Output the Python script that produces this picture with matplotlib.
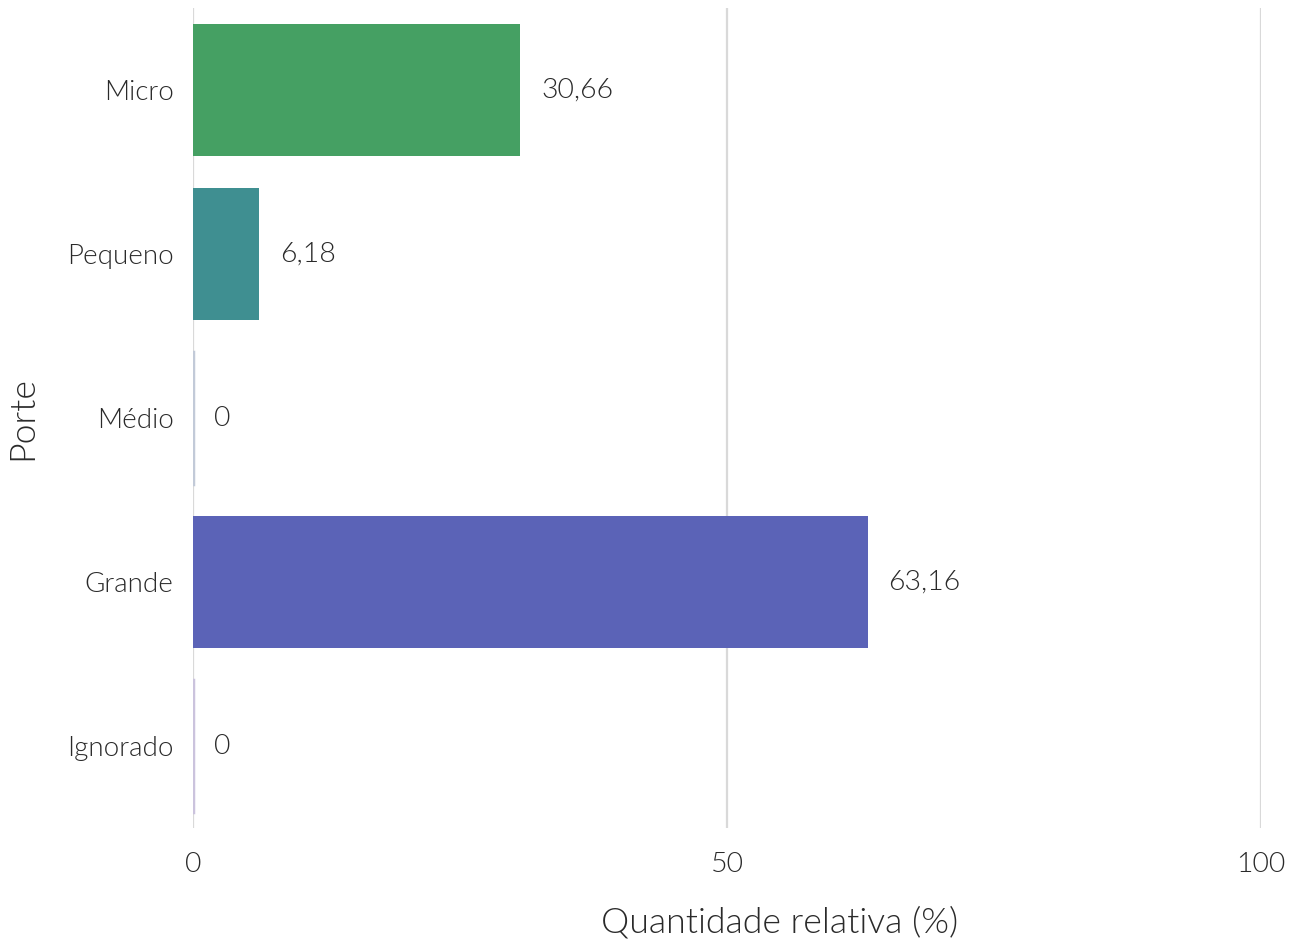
import numpy as np
import matplotlib.pyplot as plt

# dados
categorias = ['Micro', 'Pequeno', 'Médio', 'Grande', 'Ignorado']
valores = [30.66, 6.18, 0, 63.16, 0]
rotulos = ['30,66', '6,18', '0', '63,16', '0']
cores = ['#45a063', '#3f8f91', '#c2cad8', '#5b63b7', '#cbc3dd']

plt.rcParams['font.family'] = ['Lato', 'DejaVu Sans']
plt.rcParams['font.weight'] = 300  # Lato Light

fig = plt.figure(figsize=(12.98, 9.42), dpi=100)
ax = fig.add_axes([193 / 1298, 1 - 828 / 942, (1261 - 193) / 1298, (828 - 8) / 942])

y = np.arange(len(categorias))
ax.barh(y, valores, height=0.8, color=cores, zorder=2)
# barras de valor zero ficam como uma linha fina
for yi, v, c in zip(y, valores, cores):
    if v == 0:
        ax.plot([0, 0], [yi - 0.4, yi + 0.4], color=c, lw=2.5, zorder=3)
    ax.annotate(rotulos[yi], (v, yi), xytext=(21, 0), textcoords='offset pixels',
                va='center', ha='left', fontsize=20.5, color='#2a2a2a', fontweight=300)

ax.set_xlim(0, 100)
ax.set_ylim(4.5, -0.5)
ax.set_xticks([0, 50, 100])
ax.set_yticks(y)
ax.set_yticklabels(categorias)
ax.xaxis.grid(True, color='#d9d9d9', lw=1.6, zorder=0)
ax.set_axisbelow(True)
for s in ax.spines.values():
    s.set_visible(False)
ax.tick_params(axis='both', length=0, labelcolor='#2a2a2a')
ax.tick_params(axis='x', pad=17, labelsize=20.5)
ax.tick_params(axis='y', pad=14, labelsize=20)
ax.set_xlabel('Quantidade relativa (%)', fontsize=25.7, color='#2a2a2a', fontweight=300)
ax.set_ylabel('Porte', fontsize=25.7, color='#2a2a2a', fontweight=300)
ax.xaxis.set_label_coords((780 - 193) / 1068, -0.095)
ax.yaxis.set_label_coords(-0.145, 0.5)

fig.savefig('out.png', dpi=100)
